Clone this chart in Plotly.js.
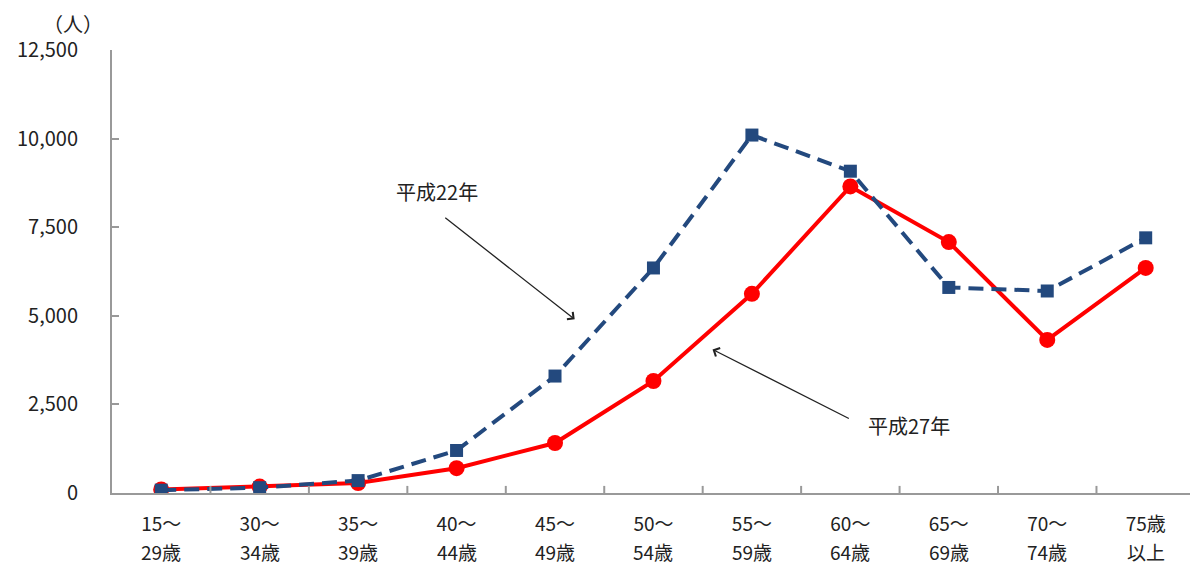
<!DOCTYPE html>
<html><head><meta charset="utf-8">
<script src="https://cdn.plot.ly/plotly-3.0.1.min.js"></script>
<style>html,body{margin:0;padding:0;background:#fff}#c{width:1190px;height:565px}</style>
</head><body><div id="c"></div>
<script>
var categoriesLine1 = ["15～","30～","35～","40～","45～","50～","55～","60～","65～","70～","75歳"];
var categoriesLine2 = ["29歳","34歳","39歳","44歳","49歳","54歳","59歳","64歳","69歳","74歳","以上"];
var h22 = [80, 150, 350, 1200, 3300, 6350, 10100, 9080, 5800, 5700, 7200];
var h27 = [100, 180, 280, 700, 1410, 3160, 5620, 8650, 7080, 4320, 6350];
var yTicks = [0, 2500, 5000, 7500, 10000, 12500];
var yTickText = ["0", "2,500", "5,000", "7,500", "10,000", "12,500"];

var font = "'Noto Sans CJK JP', 'Noto Sans', sans-serif";
var fs = 20;
var xfs = 19;
var idx = categoriesLine1.map(function(_, i){ return i; });

var traces = [
  {x: idx, y: h27, type: "scatter", mode: "lines+markers", name: "平成27年",
   line: {color: "#FF0000", width: 4},
   marker: {symbol: "circle", size: 16, color: "#FF0000"}},
  {x: idx, y: h22, type: "scatter", mode: "lines+markers", name: "平成22年",
   line: {color: "#23497E", width: 4, dash: "15px,8px"},
   marker: {symbol: "square", size: 13, color: "#23497E"}}
];

var layout = {
  width: 1190, height: 565,
  margin: {l: 112, r: 0, t: 50, b: 72},
  paper_bgcolor: "#fff", plot_bgcolor: "#fff",
  showlegend: false,
  font: {family: font, size: fs, color: "#222"},
  xaxis: {
    range: [-0.5, 10.45],
    tickmode: "array", tickvals: idx, ticktext: categoriesLine1,
    ticks: "", showgrid: false, zeroline: false,
    showline: true, linecolor: "#999", linewidth: 2,
    ticklabelstandoff: 13,
    tickfont: {family: font, size: xfs, color: "#222"}
  },
  yaxis: {
    range: [0, 12500],
    tickmode: "array", tickvals: yTicks, ticktext: yTickText,
    ticks: "inside", ticklen: 7, tickcolor: "#999", tickwidth: 2,
    showgrid: false, zeroline: false,
    showline: true, linecolor: "#999", linewidth: 2,
    ticklabelstandoff: 28,
    tickfont: {family: font, size: fs, color: "#222"}
  },
  shapes: [],
  annotations: [
    {xref: "paper", yref: "paper", x: -0.036, y: 1.0, yshift: 27, text: "（人）", showarrow: false,
     font: {family: font, size: fs, color: "#222"}, xanchor: "center", yanchor: "middle"},
    {xref: "x", yref: "y", x: 4.2, y: 4900, ax: 2.87, ay: 7800, axref: "x", ayref: "y",
     text: "", showarrow: true, arrowhead: 4, arrowsize: 1.4, arrowwidth: 1.3, arrowcolor: "#222"},
    {xref: "x", yref: "y", x: 2.8, y: 8500, text: "平成22年", showarrow: false,
     font: {family: font, size: fs, color: "#222"}},
    {xref: "x", yref: "y", x: 5.6, y: 4050, ax: 7.0, ay: 2080, axref: "x", ayref: "y",
     text: "", showarrow: true, arrowhead: 4, arrowsize: 1.4, arrowwidth: 1.3, arrowcolor: "#222"},
    {xref: "x", yref: "y", x: 7.6, y: 1900, text: "平成27年", showarrow: false,
     font: {family: font, size: fs, color: "#222"}}
  ]
};

for (var i = 0; i < idx.length; i++) {
  layout.annotations.push({xref: "x", yref: "paper", x: i, y: 0, yshift: -58, text: categoriesLine2[i],
    showarrow: false, borderpad: 0, xanchor: "center", yanchor: "middle", font: {family: font, size: xfs, color: "#222"}});
  layout.shapes.push({type: "line", xref: "x", yref: "paper", x0: i + 0.5, x1: i + 0.5, y0: 0, y1: 0.016,
    line: {color: "#999", width: 2}});
}

Plotly.newPlot("c", traces, layout, {displayModeBar: false, staticPlot: true});
</script></body></html>
